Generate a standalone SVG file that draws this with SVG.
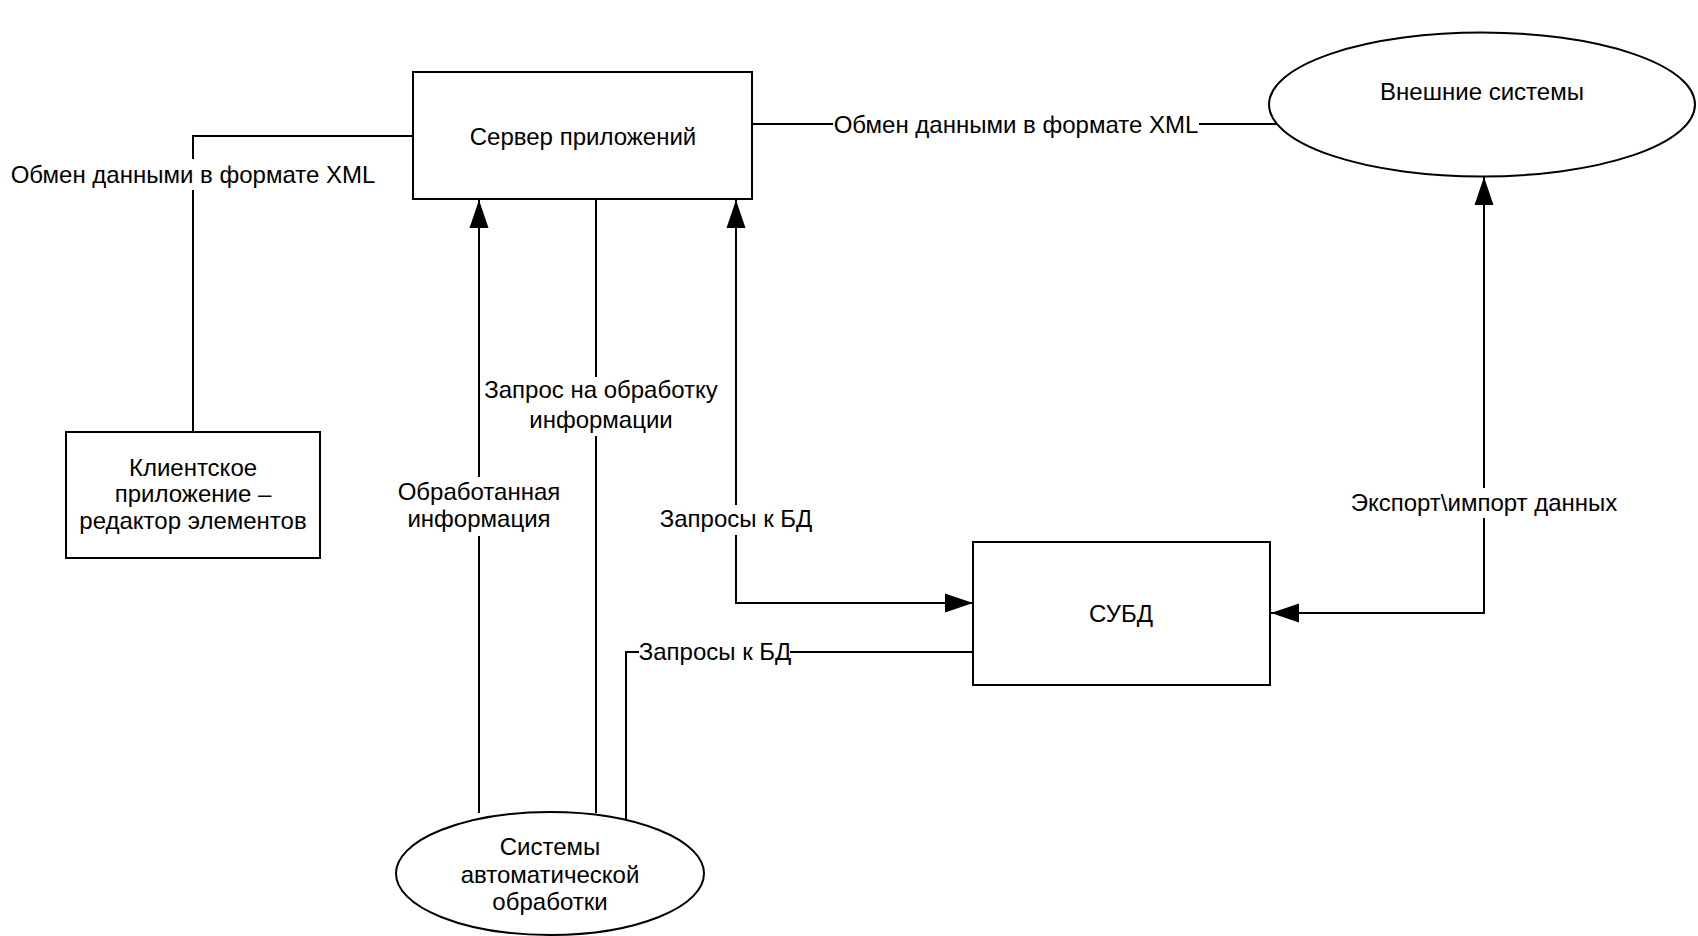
<svg xmlns="http://www.w3.org/2000/svg" width="1698" height="936" viewBox="0 0 1698 936">
<style>
.box{fill:#fff;stroke:#000;stroke-width:2}
.ln{fill:none;stroke:#000;stroke-width:2}
text{font-family:"Liberation Sans",Arial,sans-serif;font-size:24px;fill:#000;text-anchor:middle}
</style>
<defs>
<marker id="arr" markerUnits="userSpaceOnUse" markerWidth="28" markerHeight="20" refX="28" refY="10" orient="auto-start-reverse" viewBox="0 0 28 20">
<path d="M0,0.5 L28,10 L0,19.5 z" fill="#000"/>
</marker>
</defs>
<rect width="1698" height="936" fill="#fff"/>
<g id="connectors">
<path class="ln" d="M413,136 H193 V159 M193,190 V432"/>
<path class="ln" d="M752,124 H833 M1199,124 H1278"/>
<path class="ln" d="M479,813 V536 M479,477 V200" marker-end="url(#arr)"/>
<path class="ln" d="M596,199 V377 M596,436 V813"/>
<path class="ln" d="M736,200 V505 M736,535 V603 H973" marker-start="url(#arr)" marker-end="url(#arr)"/>
<path class="ln" d="M626,820 V652 H639 M790,652 H973"/>
<path class="ln" d="M1271,613 H1484 V518 M1484,488 V177" marker-start="url(#arr)" marker-end="url(#arr)"/>
<text x="193" y="183">Обмен данными в формате XML</text>
<text x="1016" y="133">Обмен данными в формате XML</text>
<text x="479" y="500">Обработанная</text>
<text x="479" y="527">информация</text>
<text x="601" y="398">Запрос на обработку</text>
<text x="601" y="428">информации</text>
<text x="736" y="527">Запросы к БД</text>
<text x="715" y="660">Запросы к БД</text>
<text x="1484" y="511">Экспорт\импорт данных</text>
</g>
<g id="server">
<rect class="box" x="413" y="72" width="339" height="127"/>
<text x="583" y="145">Сервер приложений</text>
</g>
<g id="client">
<rect class="box" x="66" y="432" width="254" height="126"/>
<text x="193" y="476">Клиентское</text>
<text x="193" y="502">приложение –</text>
<text x="193" y="528.5">редактор элементов</text>
</g>
<g id="external">
<ellipse class="box" cx="1482" cy="104.5" rx="213" ry="72"/>
<text x="1482" y="100">Внешние системы</text>
</g>
<g id="dbms">
<rect class="box" x="973" y="542" width="297" height="143"/>
<text x="1121" y="622">СУБД</text>
</g>
<g id="auto">
<ellipse class="box" cx="550" cy="873.5" rx="154" ry="61.5"/>
<text x="550" y="855">Системы</text>
<text x="550" y="882.5">автоматической</text>
<text x="550" y="910">обработки</text>
</g>
</svg>
